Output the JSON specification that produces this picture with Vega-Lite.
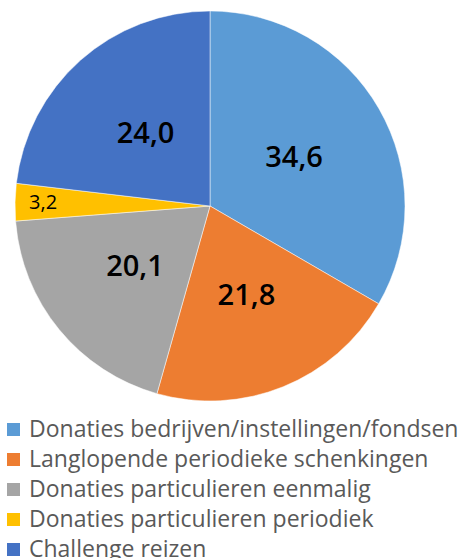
{
  "$schema": "https://vega.github.io/schema/vega-lite/v6.json",
  "width": 420,
  "height": 412,
  "padding": 0,
  "autosize": {"type": "pad"},
  "background": "white",
  "data": {"values": [
    {"k": 1, "cat": "Donaties bedrijven/instellingen/fondsen", "value": 34.6, "label": "34,6"},
    {"k": 2, "cat": "Langlopende periodieke schenkingen", "value": 21.8, "label": "21,8"},
    {"k": 3, "cat": "Donaties particulieren eenmalig", "value": 20.1, "label": "20,1"},
    {"k": 4, "cat": "Donaties particulieren periodiek", "value": 3.2, "label": "3,2"},
    {"k": 5, "cat": "Challenge reizen", "value": 24.0, "label": "24,0"}
  ]},
  "encoding": {
    "theta": {"field": "value", "type": "quantitative", "stack": true},
    "order": {"field": "k", "type": "quantitative"}
  },
  "layer": [
    {
      "mark": {"type": "arc", "outerRadius": 195, "stroke": "white", "strokeWidth": 0.5},
      "encoding": {
        "color": {
          "field": "cat", "type": "nominal",
          "scale": {
            "domain": ["Donaties bedrijven/instellingen/fondsen", "Langlopende periodieke schenkingen", "Donaties particulieren eenmalig", "Donaties particulieren periodiek", "Challenge reizen"],
            "range": ["#5B9BD5", "#ED7D31", "#A5A5A5", "#FFC000", "#4472C4"]
          },
          "legend": {
            "title": null,
            "orient": "none",
            "legendX": 2,
            "legendY": 418,
            "padding": 0,
            "symbolType": "square",
            "symbolSize": 169,
            "symbolStrokeWidth": 0,
            "symbolOffset": 0,
            "labelFont": "Open Sans",
            "labelFontSize": 23,
            "labelColor": "#595959",
            "labelOffset": 4,
            "labelLimit": 500,
            "rowPadding": 6
          }
        }
      }
    },
    {
      "mark": {"type": "text", "radius": 97, "font": "Open Sans", "fontSize": 29, "fontWeight": 600, "color": "black"},
      "encoding": {
        "text": {"condition": {"test": "datum.value < 5", "value": ""}, "field": "label"}
      }
    },
    {
      "mark": {"type": "text", "radius": 167, "font": "Open Sans", "fontSize": 20, "color": "black"},
      "encoding": {
        "text": {"condition": {"test": "datum.value >= 5", "value": ""}, "field": "label"}
      }
    }
  ]
}
